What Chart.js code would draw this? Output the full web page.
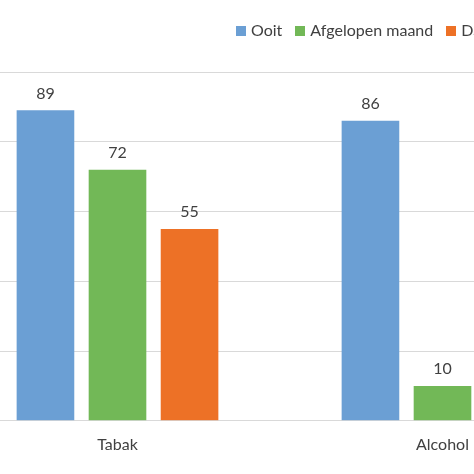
<!DOCTYPE html>
<html>
<head>
<meta charset="utf-8">
<script src="https://cdn.jsdelivr.net/npm/chart.js@4"></script>
<style>
  html, body { margin: 0; padding: 0; background: #fff; overflow: hidden; }
  #wrap { position: relative; width: 474px; height: 474px; overflow: hidden; }
  #box { position: absolute; left: -45px; top: 0; width: 650px; height: 474px; }
  #legend { position: absolute; top: 20px; left: 236px; font: 16px Lato, sans-serif; color: #404040; white-space: nowrap; }
  #legend span.sw { display: inline-block; width: 10px; height: 10px; margin-right: 5px; vertical-align: 0; }
  #legend span.it { margin-right: 13px; }
</style>
</head>
<body>
<div id="wrap">
  <div id="box"><canvas id="chart"></canvas></div>
  <div id="legend"></div>
</div>
<script>
const categories = ['Tabak', 'Alcohol'];
const seriesNames = ['Ooit', 'Afgelopen maand', 'Dagelijks'];
const seriesColors = ['#6b9fd4', '#72b857', '#ed7126'];
const ooit = [89, 86];
const afgelopenMaand = [72, 10];
const dagelijks = [55, 3];

// waarden boven de staven
const valueLabels = {
    id: 'valueLabels',
    afterDatasetsDraw(chart) {
        const ctx = chart.ctx;
        ctx.save();
        ctx.font = '16px Lato, sans-serif';
        ctx.fillStyle = '#404040';
        ctx.textAlign = 'center';
        ctx.textBaseline = 'bottom';
        chart.data.datasets.forEach((ds, i) => {
            chart.getDatasetMeta(i).data.forEach((bar, j) => {
                ctx.fillText(ds.data[j], bar.x, bar.y - 9);
            });
        });
        ctx.restore();
    }
};

const legend = document.getElementById('legend');
seriesNames.forEach((name, i) => {
    legend.innerHTML += `<span class="sw" style="background:${seriesColors[i]}"></span><span class="it">${name}</span>`;
});

new Chart(document.getElementById('chart'), {
    type: 'bar',
    data: {
        labels: categories,
        datasets: [
            { label: seriesNames[0], data: ooit, backgroundColor: seriesColors[0] },
            { label: seriesNames[1], data: afgelopenMaand, backgroundColor: seriesColors[1] },
            { label: seriesNames[2], data: dagelijks, backgroundColor: seriesColors[2] }
        ]
    },
    options: {
        responsive: true,
        maintainAspectRatio: false,
        animation: false,
        layout: { padding: { top: 72, bottom: 14 } },
        datasets: { bar: { categoryPercentage: 0.665, barPercentage: 0.8 } },
        scales: {
            y: {
                min: 0, max: 100,
                ticks: { display: false, stepSize: 20 },
                grid: { color: '#d9d9d9', drawTicks: false },
                border: { display: false }
            },
            x: {
                grid: { display: false },
                border: { color: '#d9d9d9' },
                ticks: { color: '#404040', font: { family: 'Lato', size: 16 }, padding: 6 }
            }
        },
        plugins: { legend: { display: false }, tooltip: { enabled: false } }
    },
    plugins: [valueLabels]
});
</script>
</body>
</html>
